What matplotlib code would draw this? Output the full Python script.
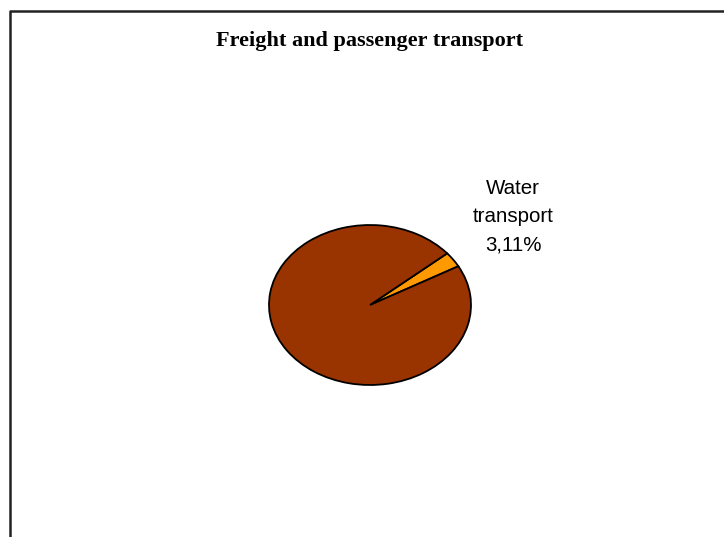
import matplotlib
matplotlib.use("Agg")
from matplotlib import pyplot as plt

# data
labels = ["Water transport", "Other transport"]
shares = [3.11, 96.89]
colors = ["#FF9900", "#993300"]

W, H = 724, 537
sq = 101 / 80  # pie is drawn wider than tall

fig = plt.figure(figsize=(W / 100, H / 100), dpi=100)
ax = fig.add_axes([0, 0, 1, 1])

ax.pie(shares, colors=colors, startangle=29, counterclock=True,
       radius=101, center=(370, (H - 305) * sq),
       wedgeprops=dict(edgecolor="black", linewidth=1.3))

ax.set_aspect("auto")
ax.set_xlim(0, W)
ax.set_ylim(0, H * sq)
ax.axis("off")

# chart border (left and top visible)
ax.plot([10, 10, W + 5], [-5, (H - 11) * sq, (H - 11) * sq],
        color="#222222", linewidth=1.8, clip_on=False)

ax.text(370, (H - 41) * sq, "Freight and passenger transport",
        ha="center", va="center", fontsize=16, fontweight="bold",
        family="Liberation Serif")

ax.text(513, (H - 217) * sq, "Water\ntransport\n%s%%" % str(shares[0]).replace(".", ","),
        ha="center", va="center", fontsize=14.8, linespacing=1.6,
        family="Liberation Sans")

fig.savefig("out.png", dpi=100)
